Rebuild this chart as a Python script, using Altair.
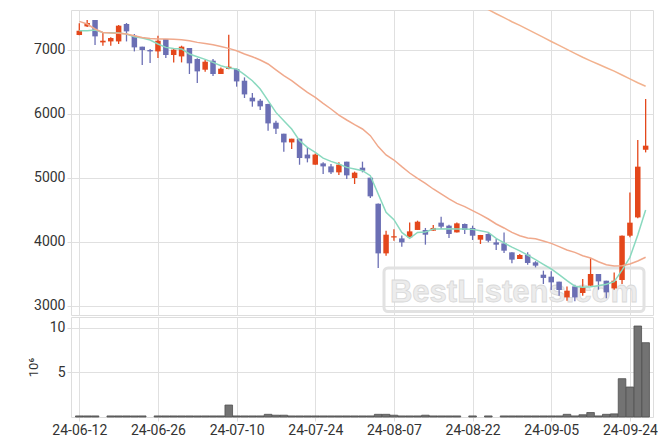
import json
import altair as alt
import pandas as pd

# Trading days (KRX) shown on the chart
dates = [
    "2024-06-12", "2024-06-13", "2024-06-14", "2024-06-17", "2024-06-18", "2024-06-19", "2024-06-20", "2024-06-21",
    "2024-06-24", "2024-06-25", "2024-06-26", "2024-06-27", "2024-06-28", "2024-07-01", "2024-07-02", "2024-07-03",
    "2024-07-04", "2024-07-05", "2024-07-08", "2024-07-09", "2024-07-10", "2024-07-11", "2024-07-12", "2024-07-15",
    "2024-07-16", "2024-07-17", "2024-07-18", "2024-07-19", "2024-07-22", "2024-07-23", "2024-07-24", "2024-07-25",
    "2024-07-26", "2024-07-29", "2024-07-30", "2024-07-31", "2024-08-01", "2024-08-02", "2024-08-05", "2024-08-06",
    "2024-08-07", "2024-08-08", "2024-08-09", "2024-08-12", "2024-08-13", "2024-08-14", "2024-08-16", "2024-08-19",
    "2024-08-20", "2024-08-21", "2024-08-22", "2024-08-23", "2024-08-26", "2024-08-27", "2024-08-28", "2024-08-29",
    "2024-08-30", "2024-09-02", "2024-09-03", "2024-09-04", "2024-09-05", "2024-09-06", "2024-09-09", "2024-09-10",
    "2024-09-11", "2024-09-12", "2024-09-13", "2024-09-19", "2024-09-20", "2024-09-23", "2024-09-24", "2024-09-25",
    "2024-09-26",
]

opens = [7234, 7369, 7469, 7119, 7134, 7134, 7406, 7223, 7052, 7000,
         6978, 7172, 6922, 6900, 7031, 6859, 6692, 6833, 6625, 6703,
         6703, 6520, 6255, 6208, 6156, 5864, 5692, 5556, 5614, 5366,
         5208, 5228, 5181, 5088, 5255, 5000, 5161, 5005, 4598, 3822,
         4070, 4056, 4073, 4188, 4187, 4177, 4302, 4255, 4150, 4281,
         4219, 4036, 4125, 3994, 3978, 3838, 3734, 3802, 3682, 3489,
         3458, 3380, 3134, 3306, 3203, 3317, 3500, 3395, 3275, 3406,
         4098, 4384, 5441]
highs = [7416, 7469, 7469, 7275, 7200, 7390, 7422, 7250, 7052, 7016,
         7223, 7172, 7020, 7067, 7031, 6870, 6844, 6859, 6728, 7239,
         6710, 6572, 6328, 6234, 6160, 5895, 5692, 5614, 5614, 5478,
         5384, 5244, 5219, 5244, 5255, 5100, 5255, 5005, 4600, 4177,
         4200, 4100, 4306, 4333, 4219, 4266, 4395, 4270, 4306, 4290,
         4255, 4110, 4135, 4047, 4150, 3840, 3813, 3838, 3700, 3552,
         3541, 3380, 3306, 3333, 3422, 3750, 3500, 3395, 3525, 4100,
         4775, 5594, 6234]
lows = [7230, 7360, 7078, 7067, 7067, 7094, 7134, 6978, 6766, 6797,
        6875, 6875, 6806, 6806, 6625, 6484, 6661, 6594, 6625, 6700,
        6427, 6250, 6114, 6063, 5739, 5687, 5411, 5453, 5207, 5244,
        5208, 5062, 5062, 5047, 4984, 4906, 5088, 4688, 3594, 3786,
        4020, 3927, 4073, 4188, 3958, 4177, 4203, 4063, 4150, 4125,
        4031, 3969, 3994, 3875, 3828, 3666, 3734, 3645, 3603, 3344,
        3250, 3161, 3083, 3072, 3161, 3317, 3255, 3119, 3255, 3344,
        4072, 4370, 5400]
closes = [7302, 7422, 7213, 7145, 7187, 7380, 7291, 7041, 7000, 6978,
          7145, 6922, 7005, 7052, 6791, 6666, 6817, 6625, 6708, 6739,
          6509, 6306, 6197, 6119, 5853, 5770, 5556, 5614, 5312, 5306,
          5366, 5181, 5088, 5208, 5041, 5083, 5114, 4713, 3822, 4114,
          4090, 3994, 4166, 4317, 4114, 4219, 4239, 4125, 4291, 4187,
          4098, 4109, 4020, 3958, 3864, 3724, 3797, 3672, 3630, 3438,
          3369, 3250, 3239, 3134, 3291, 3500, 3384, 3213, 3395, 4098,
          4302, 5177, 5505]

# volume in millions
volumes = [0.12, 0.12, 0.12, 0.0, 0.12, 0.12, 0.12, 0.12, 0.12, 0.0,
           0.12, 0.12, 0.12, 0.12, 0.12, 0.12, 0.12, 0.12, 0.12, 1.34,
           0.12, 0.12, 0.12, 0.12, 0.3, 0.2, 0.2, 0.12, 0.12, 0.12,
           0.12, 0.12, 0.12, 0.12, 0.12, 0.12, 0.12, 0.12, 0.3, 0.3,
           0.2, 0.12, 0.12, 0.12, 0.2, 0.12, 0.12, 0.12, 0.12, 0.0,
           0.12, 0.0, 0.12, 0.0, 0.12, 0.12, 0.12, 0.12, 0.12, 0.12,
           0.12, 0.12, 0.3, 0.12, 0.25, 0.5, 0.12, 0.3, 0.35, 4.29,
           3.36, 10.19, 8.32]

ma_short = [7302, 7302, 7312, 7275, 7270, 7266, 7250, 7208, 7188, 7156,
            7094, 7041, 7025, 7016, 6938, 6895, 6853, 6806, 6755, 6720,
            6703, 6614, 6520, 6391, 6208, 6025, 5895, 5766, 5583, 5478,
            5400, 5310, 5259, 5219, 5166, 5141, 5114, 5036, 4750, 4463,
            4348, 4150, 4056, 4150, 4156, 4203, 4203, 4208, 4203, 4203,
            4197, 4177, 4150, 4056, 3985, 3920, 3860, 3795, 3725, 3650,
            3578, 3489, 3395, 3309, 3294, 3302, 3317, 3341, 3380, 3560,
            3760, 4110, 4500]
ma_mid = [7447, 7406, 7328, 7275, 7266, 7260, 7250, 7223, 7197, 7181,
          7172, 7172, 7166, 7161, 7145, 7119, 7103, 7083, 7056, 7025,
          6989, 6938, 6895, 6844, 6781, 6688, 6598, 6520, 6427, 6338,
          6259, 6166, 6078, 5984, 5906, 5833, 5766, 5661, 5490, 5360,
          5281, 5177, 5078, 4994, 4916, 4828, 4750, 4672, 4603, 4552,
          4489, 4427, 4359, 4281, 4219, 4150, 4098, 4063, 4050, 4015,
          3978, 3927, 3875, 3838, 3786, 3750, 3692, 3645, 3625, 3628,
          3655, 3703, 3762]
ma_long = [None] * 51 + [7692, 7630, 7567, 7505, 7442, 7384, 7322, 7259, 7197, 7133,
                         7072, 7009, 6948, 6886, 6830, 6777, 6723, 6669, 6609, 6548,
                         6489, 6434]

price_ticks = [3000, 4000, 5000, 6000, 7000]
volume_ticks = [5, 10]
volume_title = "10⁶"
watermark = "BestListens.com"

UP = "#e4471b"
DOWN = "#6b6fb4"
TEAL = "#8ad9bf"
SALMON = "#f0a98c"
PEACH = "#f2b28e"
GRID = "#e0e0e0"
FONT = "Roboto"
LABEL = "#333333"

n = len(dates)
df = pd.DataFrame({
    "idx": list(range(n)),
    "date": dates,
    "open": opens,
    "high": highs,
    "low": lows,
    "close": closes,
    "vol": volumes,
    "ma_short": ma_short,
    "ma_mid": ma_mid,
    "ma_long": ma_long,
})
df["dir"] = ["up" if c >= o else "down" for o, c in zip(opens, closes)]

short_labels = [d[2:] for d in dates]
tick_idx = list(range(0, n, 10))
label_expr = json.dumps(short_labels) + "[datum.value]"

x_scale = alt.Scale(domain=[-0.42, 72.3], nice=False, zero=False)
x_top = alt.X("idx:Q", scale=x_scale,
              axis=alt.Axis(values=tick_idx, labels=False, ticks=False, domain=False,
                            grid=True, gridColor=GRID, title=None))
x_bot = alt.X("idx:Q", scale=x_scale,
              axis=alt.Axis(values=tick_idx, labelExpr=label_expr, labelFlush=False,
                            labelOverlap=False, tickSize=4, tickColor="#dddddd",
                            domain=False, grid=True, gridColor=GRID, title=None,
                            labelFont=FONT, labelFontSize=14, labelColor=LABEL,
                            labelPadding=2))

y_scale = alt.Scale(domain=[2859, 7625], nice=False, zero=False)
y_axis = alt.Axis(values=price_ticks, format="d", title=None, domain=False,
                  tickSize=4, tickColor="#dddddd", gridColor=GRID,
                  labelFont=FONT, labelFontSize=14, labelColor=LABEL, labelPadding=2,
                  minExtent=62, maxExtent=62)

color = alt.Color("dir:N", scale=alt.Scale(domain=["up", "down"], range=[UP, DOWN]), legend=None)

base = alt.Chart(df)

wm_data = alt.Data(values=[{"t": watermark}])
wm_rect = alt.Chart(wm_data).mark_rect(
    fill="white", fillOpacity=0, stroke="#e2e2e2", strokeWidth=3, cornerRadius=4
).encode(x=alt.value(313), x2=alt.value(573), y=alt.value(258), y2=alt.value(301.5))
wm_text = alt.Chart(wm_data).mark_text(
    font="Liberation Sans", fontWeight="bold", fontSize=31, fill="#ececec",
    stroke="#d9d9d9", strokeWidth=0.8, align="center", baseline="alphabetic"
).encode(x=alt.value(443), y=alt.value(291.5), text="t:N")

wicks = base.mark_rule(strokeWidth=1.3).encode(
    x=x_top, y=alt.Y("low:Q", scale=y_scale, axis=y_axis), y2="high:Q", color=color)
bodies = base.mark_bar(size=5.5, orient="vertical").encode(
    x=x_top, y=alt.Y("open:Q", scale=y_scale, axis=y_axis), y2="close:Q", color=color)
line_s = base.mark_line(strokeWidth=1.5, clip=True, color=TEAL).encode(
    x=x_top, y=alt.Y("ma_short:Q", scale=y_scale, axis=y_axis))
line_m = base.mark_line(strokeWidth=1.5, clip=True, color=SALMON).encode(
    x=x_top, y=alt.Y("ma_mid:Q", scale=y_scale, axis=y_axis))
line_l = base.mark_line(strokeWidth=1.5, clip=True, color=PEACH).encode(
    x=x_top, y=alt.Y("ma_long:Q", scale=y_scale, axis=y_axis))

top = alt.layer(wm_rect, wm_text, wicks, bodies, line_s, line_m, line_l).properties(
    width=582, height=305)

vol = base.transform_filter("datum.vol > 0").mark_bar(
    size=7.6, orient="vertical", fill="#737373", stroke="#4f4f4f", strokeWidth=0.8
).encode(
    x=x_bot,
    y=alt.Y("vol:Q", scale=alt.Scale(domain=[0, 11.2], nice=False),
            axis=alt.Axis(values=volume_ticks, title=volume_title, domain=False,
                          tickSize=4, tickColor="#dddddd", gridColor=GRID,
                          labelFont=FONT, labelFontSize=14, labelColor=LABEL, labelPadding=2,
                          titleFont=FONT, titleFontSize=13, titleFontWeight="normal",
                          titleColor=LABEL, titlePadding=9, minExtent=22, maxExtent=22)),
).properties(width=582, height=100)

chart = alt.vconcat(
    top, vol, spacing=0,
    padding={"left": 0, "top": 1, "right": 0, "bottom": 0},
).configure_view(stroke="#dddddd")

chart.save("out.html", embed_options={"renderer": "svg", "actions": False})
